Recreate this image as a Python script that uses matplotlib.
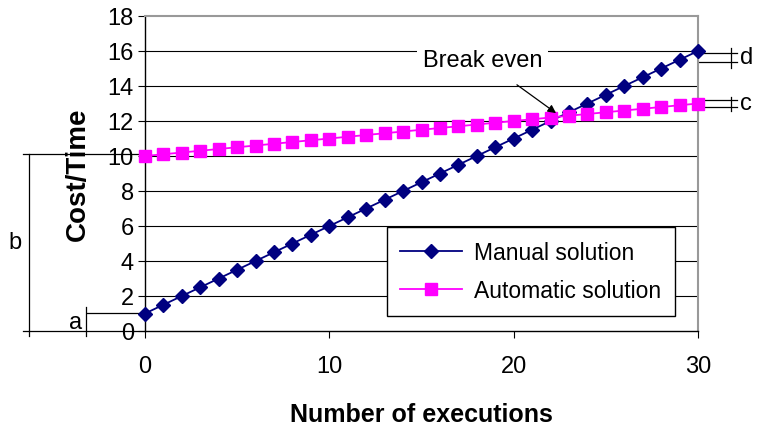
import matplotlib.pyplot as plt

executions = list(range(0, 31))
manual = [1.0, 1.5, 2.0, 2.5, 3.0, 3.5, 4.0, 4.5, 5.0, 5.5, 6.0, 6.5, 7.0, 7.5, 8.0, 8.5,
          9.0, 9.5, 10.0, 10.5, 11.0, 11.5, 12.0, 12.5, 13.0, 13.5, 14.0, 14.5, 15.0, 15.5, 16.0]
automatic = [10.0, 10.1, 10.2, 10.3, 10.4, 10.5, 10.6, 10.7, 10.8, 10.9, 11.0, 11.1, 11.2, 11.3,
             11.4, 11.5, 11.6, 11.7, 11.8, 11.9, 12.0, 12.1, 12.2, 12.3, 12.4, 12.5, 12.6, 12.7,
             12.8, 12.9, 13.0]
x_ticks = [0, 10, 20, 30]
y_ticks = list(range(0, 19, 2))

plt.rcParams['font.family'] = ['Liberation Sans', 'DejaVu Sans']

fig = plt.figure(figsize=(7.58, 4.27), dpi=100)
ax = fig.add_axes([145 / 758, 95 / 427, 553 / 758, 315 / 427])

# horizontal grid
for y in y_ticks[1:-1]:
    ax.axhline(y, color='black', lw=0.8, zorder=0)

ax.plot(executions, manual, color='#000080', marker='D', markersize=7, lw=1.3,
        label='Manual solution', clip_on=False, zorder=3)
ax.plot(executions, automatic, color='#FF00FF', marker='s', markersize=8, lw=1.3,
        label='Automatic solution', clip_on=False, zorder=3)

ax.set_xlim(0, 30)
ax.set_ylim(0, 18)
ax.set_xticks(x_ticks)
ax.set_yticks(y_ticks)
ax.tick_params(labelsize=17, direction='out', length=5, color='black')
ax.tick_params(axis='x', pad=12)
ax.tick_params(axis='y', pad=3)
for s in ['top', 'right']:
    ax.spines[s].set_color('#999999')
    ax.spines[s].set_linewidth(1.5)
for s in ['left', 'bottom']:
    ax.spines[s].set_color('black')
    ax.spines[s].set_linewidth(1.0)

ax.set_xlabel('Number of executions', fontsize=18, fontweight='bold', labelpad=18)
ax.set_ylabel('Cost/Time', fontsize=20, fontweight='bold', labelpad=12)

leg = ax.legend(loc='lower left', bbox_to_anchor=(0.437, 0.048), borderaxespad=0,
                fontsize=16.5, fancybox=False, edgecolor='black', framealpha=1,
                handlelength=2.7, borderpad=0.6, labelspacing=0.65, handletextpad=0.5)
leg.get_frame().set_linewidth(1.0)

# break even annotation
ax.annotate('Break even', xy=(22.3, 12.45), xytext=(18.3, 15.5),
            fontsize=17, ha='center', va='center',
            bbox=dict(boxstyle='square,pad=0.25', fc='white', ec='none'),
            arrowprops=dict(arrowstyle='-|>', color='black', lw=0.9,
                            shrinkA=10, shrinkB=0, mutation_scale=12), zorder=4)

# dimension lines on the left (a, b)
kw = dict(color='black', lw=0.9, clip_on=False)
ax.plot([-6.6, 0], [10.1, 10.1], **kw)
ax.plot([-6.6, 0], [0, 0], **kw)
ax.plot([-6.3, -6.3], [10.1, -0.3], **kw)
ax.plot([-3.15, 0], [1.05, 1.05], **kw)
ax.plot([-3.2, -3.2], [1.4, -0.3], **kw)
ax.text(-7.05, 5.1, 'b', fontsize=17, ha='center', va='center')
ax.text(-3.75, 0.5, 'a', fontsize=17, ha='center', va='center')

# dimension lines on the right (c, d)
ax.plot([30, 32.1], [15.9, 15.9], **kw)
ax.plot([30, 32.1], [15.35, 15.35], **kw)
ax.plot([31.8, 31.8], [16.2, 15.05], **kw)
ax.plot([30, 32.1], [13.2, 13.2], **kw)
ax.plot([30, 32.1], [12.8, 12.8], **kw)
ax.plot([31.8, 31.8], [13.4, 12.6], **kw)
ax.text(32.3, 15.65, 'd', fontsize=17, ha='left', va='center')
ax.text(32.3, 13.0, 'c', fontsize=17, ha='left', va='center')

fig.savefig('out.png', dpi=100)
